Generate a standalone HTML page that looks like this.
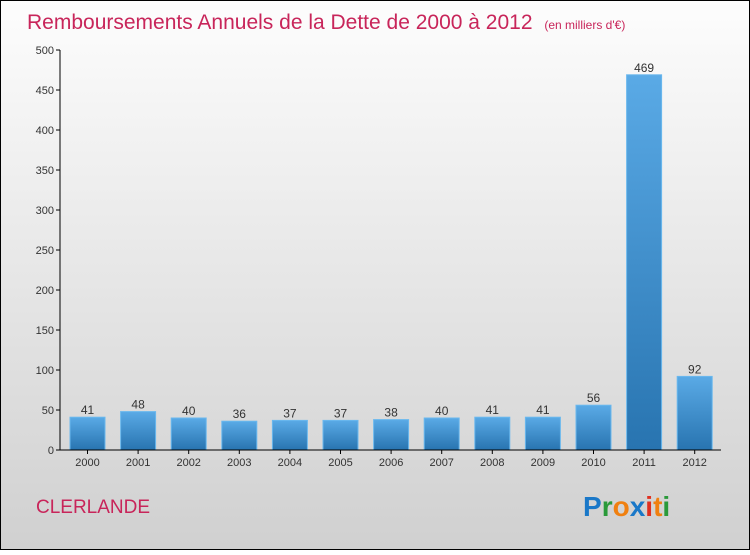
<!DOCTYPE html>
<html><head><meta charset="utf-8"><style>
body{margin:0}
#c{width:750px;height:550px;position:relative;font-family:"Liberation Sans",sans-serif}
</style></head><body>
<div id="c">
<svg width="750" height="550" xmlns="http://www.w3.org/2000/svg">
<defs>
<linearGradient id="bg" x1="0" y1="0" x2="0" y2="1"><stop offset="0" stop-color="#fdfdfd"/><stop offset="1" stop-color="#d0d0d0"/></linearGradient>
<linearGradient id="bar" x1="0" y1="0" x2="0" y2="1"><stop offset="0" stop-color="#5aaae6"/><stop offset="1" stop-color="#2874b0"/></linearGradient>
</defs>
<rect x="0.5" y="0.5" width="749" height="549" fill="url(#bg)" stroke="#000"/>
<text x="27" y="29" font-size="21" fill="#c8255a">Remboursements Annuels de la Dette de 2000 à 2012 <tspan font-size="12" dx="6">(en milliers d'€)</tspan></text>
<g id="plot"></g>
<text x="36" y="513" font-size="19" fill="#c8255a">CLERLANDE</text>
<text x="583" y="516" font-size="28" font-weight="bold"><tspan fill="#1a78c8">P</tspan><tspan fill="#2a9a3a">r</tspan><tspan fill="#f08010">o</tspan><tspan fill="#1a78c8">x</tspan><tspan fill="#e03020">i</tspan><tspan fill="#f08010">t</tspan><tspan fill="#2a9a3a">i</tspan></text>
</svg>
</div>
<script>
const categories=["2000","2001","2002","2003","2004","2005","2006","2007","2008","2009","2010","2011","2012"];
const values=[41,48,40,36,37,37,38,40,41,41,56,469,92];
const yTicks=[0,50,100,150,200,250,300,350,400,450,500];
const NS="http://www.w3.org/2000/svg";
const g=document.getElementById("plot");
const y=v=>450-v*0.8;
const x=i=>87.5+i*50.6;
function mk(t,a){const e=document.createElementNS(NS,t);for(const k in a)e.setAttribute(k,a[k]);g.appendChild(e);return e;}
yTicks.forEach(t=>{
 const l=mk("line",{x1:56,x2:60,y1:y(t),y2:y(t),stroke:"#000"});
 
 
 const tx=mk("text",{x:54,y:y(t)+4,"font-size":11,"text-anchor":"end",fill:"#333"});
 tx.textContent=t;
 
 
});
values.forEach((v,i)=>{
 const r=mk("rect",{x:x(i)-17.5,y:y(v),width:35,height:450-y(v),fill:"url(#bar)",stroke:"#6ab8ee","stroke-width":1});
 
 
 const vt=mk("text",{x:x(i),y:y(v)-3,"font-size":12,"text-anchor":"middle",fill:"#333"});
 vt.textContent=v;
 
 
 const tk=mk("line",{x1:x(i),x2:x(i),y1:450,y2:454,stroke:"#000"});
 
 
 const ct=mk("text",{x:x(i),y:466,"font-size":11,"text-anchor":"middle",fill:"#333"});
 ct.textContent=categories[i];
 
 
});
const ya=mk("line",{x1:60,x2:60,y1:50,y2:450,stroke:"#000"});


const xa=mk("line",{x1:60,x2:721,y1:450,y2:450,stroke:"#000"});


</script>
</body></html>
